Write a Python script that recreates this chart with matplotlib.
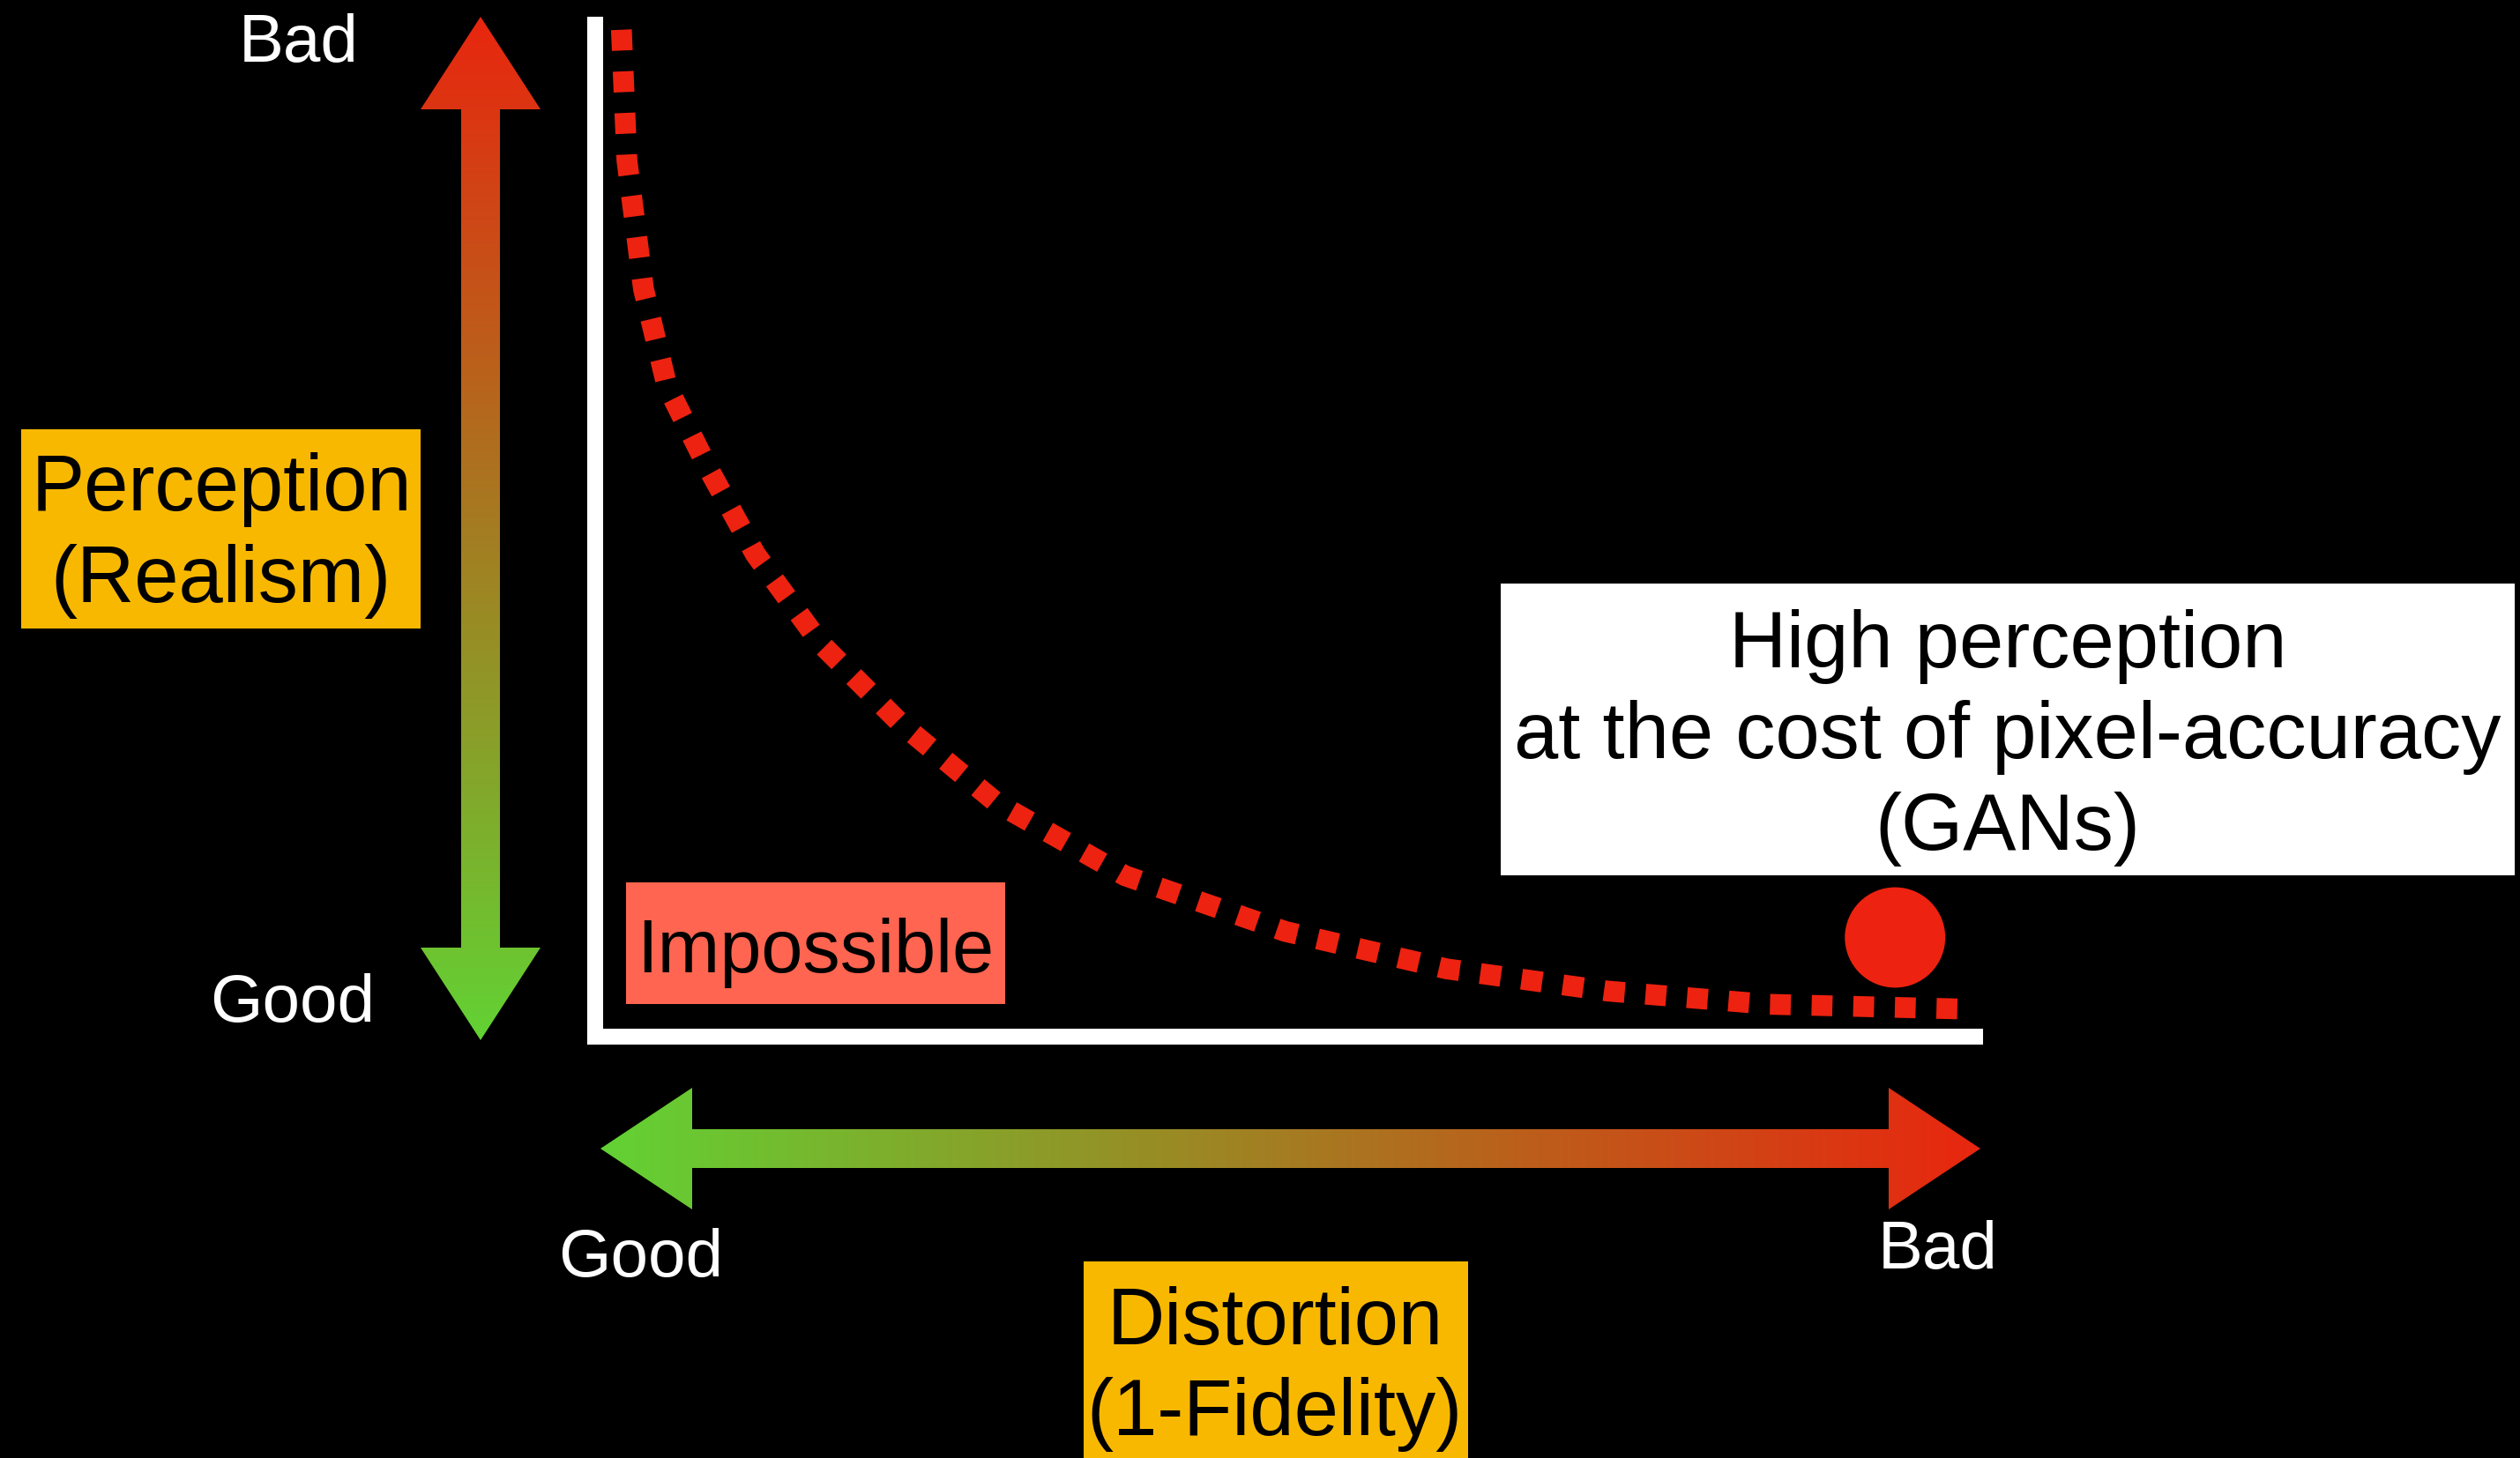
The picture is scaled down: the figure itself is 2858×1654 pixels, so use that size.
import matplotlib.pyplot as plt
from matplotlib.patches import Polygon, Rectangle
import numpy as np

plt.rcParams['font.family'] = ['Liberation Sans', 'DejaVu Sans']

# perception-distortion tradeoff curve, both axes normalised to 0..1
distortion = [0.019, 0.023, 0.035, 0.052, 0.081, 0.116, 0.163, 0.221, 0.291,
              0.384, 0.500, 0.617, 0.734, 0.850, 1.000]
perception = [0.995, 0.866, 0.739, 0.643, 0.564, 0.477, 0.389, 0.310, 0.231,
              0.159, 0.104, 0.067, 0.045, 0.032, 0.027]
gan_distortion = [0.942]
gan_perception = [0.098]

y_axis_title = ["Perception", "(Realism)"]
x_axis_title = ["Distortion", "(1-Fidelity)"]
gan_label = ["High perception", "at the cost of pixel-accuracy", "(GANs)"]
impossible_label = "Impossible"

RED = np.array([232, 38, 15]) / 255
GREEN = np.array([98, 210, 52]) / 255
ORANGE = '#F9B800'
SALMON = '#FF6550'
DOT = '#EE2210'

W, H = 2858, 1654
fig = plt.figure(figsize=(W / 100, H / 100), dpi=100, facecolor='black')

# overlay axes in pixel units for the decoration
bg = fig.add_axes([0, 0, 1, 1])
bg.set_facecolor('black')
bg.axis('off')


def grad_arrow(ax, pts, extent, c0, c1, vertical):
    poly = Polygon(pts, closed=True, facecolor='none', edgecolor='none')
    ax.add_patch(poly)
    t = np.linspace(0, 1, 256)
    cols = (1 - t)[:, None] * c0 + t[:, None] * c1
    img = cols[:, None, :] if vertical else cols[None, :, :]
    im = ax.imshow(img, extent=extent, aspect='auto', interpolation='bilinear')
    im.set_clip_path(poly)


# vertical arrow (red top -> green bottom)
cx, sh, hh = 545, 22, 68
t0, tb, bb, b0 = 19, 124, 1075, 1180
vpts = [(cx, t0), (cx + hh, tb), (cx + sh, tb), (cx + sh, bb), (cx + hh, bb), (cx, b0),
        (cx - hh, bb), (cx - sh, bb), (cx - sh, tb), (cx - hh, tb)]
grad_arrow(bg, vpts, (cx - hh, cx + hh, b0, t0), RED, GREEN, True)

# horizontal arrow (green left -> red right)
cy, sh, hh = 1303, 22, 69
l0, lb, rb, r0 = 681, 785, 2142, 2246
hpts = [(l0, cy), (lb, cy - hh), (lb, cy - sh), (rb, cy - sh), (rb, cy - hh), (r0, cy),
        (rb, cy + hh), (rb, cy + sh), (lb, cy + sh), (lb, cy + hh)]
grad_arrow(bg, hpts, (l0, r0, cy + hh, cy - hh), GREEN, RED, False)

# labelled boxes
bg.add_patch(Rectangle((24, 487), 453, 226, facecolor=ORANGE, edgecolor='none'))
bg.add_patch(Rectangle((1229, 1431), 436, 240, facecolor=ORANGE, edgecolor='none'))
bg.add_patch(Rectangle((710, 1001), 430, 138, facecolor=SALMON, edgecolor='none'))
bg.add_patch(Rectangle((1702, 662), 1150, 331, facecolor='white', edgecolor='none'))

fs = 65
for txt, yb in zip(y_axis_title, [579, 683]):
    bg.text(251, yb, txt, fontsize=fs, ha='center', va='baseline', color='black')
for txt, yb in zip(x_axis_title, [1525, 1628]):
    bg.text(1446, yb, txt, fontsize=fs, ha='center', va='baseline', color='black')
for txt, yb in zip(gan_label, [757, 860, 964]):
    bg.text(2277, yb, txt, fontsize=fs, ha='center', va='baseline', color='black')
bg.text(925, 1103, impossible_label, fontsize=61, ha='center', va='baseline', color='black')

# Good / Bad ends
fe = 55
bg.text(339, 70, "Bad", fontsize=fe, ha='center', va='baseline', color='white')
bg.text(332, 1159, "Good", fontsize=fe, ha='center', va='baseline', color='white')
bg.text(727, 1448, "Good", fontsize=fe, ha='center', va='baseline', color='white')
bg.text(2198, 1439, "Bad", fontsize=fe, ha='center', va='baseline', color='white')

bg.set_xlim(0, W)
bg.set_ylim(H, 0)

# plot area with the tradeoff curve
ax = fig.add_axes([675 / W, 1 - 1176 / H, 1565 / W, 1148 / H])
ax.set_facecolor('none')
ax.set_xlim(0, 1)
ax.set_ylim(0, 1)
ax.set_xticks([])
ax.set_yticks([])
for s in ['top', 'right']:
    ax.spines[s].set_visible(False)
for s in ['left', 'bottom']:
    ax.spines[s].set_color('white')
    ax.spines[s].set_linewidth(13)
    ax.spines[s].set_capstyle('projecting')

ax.plot(distortion, perception, color=DOT, lw=17, linestyle=(0, (1, 1)),
        dash_capstyle='butt', clip_on=False)
ax.scatter(gan_distortion, gan_perception, s=82 ** 2, color=DOT, edgecolors='none',
           clip_on=False, zorder=3)

fig.savefig('out.png', dpi=100, facecolor='black')
